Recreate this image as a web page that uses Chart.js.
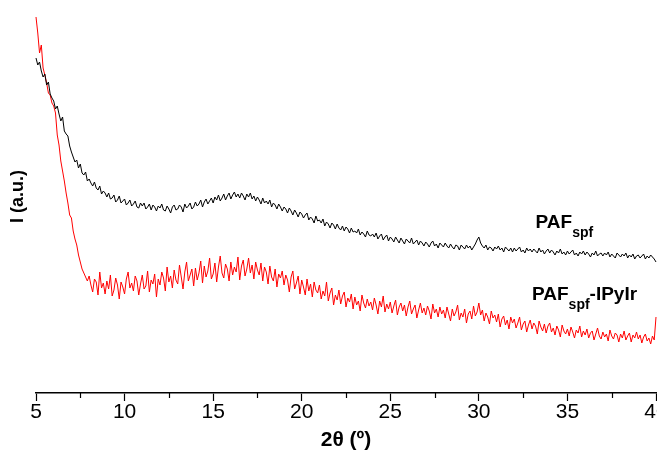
<!DOCTYPE html>
<html>
<head>
<meta charset="utf-8">
<script src="https://cdn.jsdelivr.net/npm/chart.js@4.4.1/dist/chart.umd.min.js"></script>
<style>
  html, body { margin: 0; background: #fff; }
  canvas { display: block; }
</style>
</head>
<body>
<canvas id="chart" width="657" height="467"></canvas>
<script>
// 2theta sampled every 0.1 deg from 5 to 40
const angleStart = 5;
const angleStep = 0.1;

// intensity (a.u.)
const pafSpf = [
  335, 328, 331, 322, 316, 319, 308, 311, 299, 295,
  292, 284, 287, 279, 272, 276, 262, 259, 257, 247,
  241, 236, 231, 233, 225, 229, 220, 218, 221, 212,
  214, 210, 207, 211, 205, 203, 207, 199, 202, 200,
  196, 200, 194, 195, 198, 191, 193, 197, 190, 192,
  194, 188, 190, 193, 187, 189, 192, 186, 185, 190,
  187, 190, 184, 186, 189, 183, 188, 186, 182, 187,
  185, 189, 183, 182, 187, 184, 180, 186, 188, 183,
  184, 188, 186, 181, 189, 185, 187, 190, 184, 186,
  191, 187, 189, 193, 186, 191, 194, 189, 192, 195,
  190, 196, 193, 198, 192, 195, 199, 193, 197, 200,
  194, 198, 201, 196, 199, 195, 200, 197, 193, 199,
  196, 200, 194, 197, 192, 196, 193, 189, 195, 190,
  192, 189, 193, 186, 190, 188, 184, 189, 186, 182,
  186, 184, 180, 185, 182, 178, 183, 180, 176, 181,
  179, 175, 178, 180, 173, 176, 174, 170, 177, 172,
  173, 170, 174, 167, 171, 169, 165, 170, 168, 164,
  169, 165, 163, 167, 162, 166, 164, 160, 165, 161,
  162, 160, 164, 158, 161, 159, 156, 162, 158, 157,
  159, 156, 160, 154, 157, 159, 153, 156, 158, 152,
  156, 154, 151, 156, 153, 150, 155, 152, 149, 154,
  152, 150, 155, 149, 151, 153, 148, 152, 150, 147,
  151, 149, 146, 150, 152, 147, 149, 145, 150, 148,
  146, 150, 147, 145, 149, 146, 144, 148, 147, 143,
  148, 146, 144, 148, 145, 147, 143, 146, 149, 153,
  156, 150, 147, 145, 148, 143, 146, 145, 142, 146,
  144, 147, 143, 145, 141, 146, 144, 142, 145, 141,
  145, 142, 144, 146, 141, 143, 140, 145, 142, 144,
  141, 144, 142, 140, 145, 141, 143, 139, 142, 144,
  140, 143, 141, 138, 142, 140, 144, 139, 141, 138,
  142, 139, 141, 143, 138, 140, 137, 141, 139, 142,
  138, 141, 139, 136, 140, 138, 142, 137, 139, 140,
  137, 140, 138, 141, 136, 139, 137, 135, 140, 138,
  136, 139, 137, 140, 135, 138, 136, 139, 134, 137,
  138, 135, 137, 139, 134, 137, 135, 138, 136, 134,
  131
];

const pafSpfIPyIr = [
  376, 360, 340, 348, 325, 318, 310, 300, 298, 290,
  287, 280, 258, 248, 232, 222, 212, 200, 190, 178,
  175, 162, 154, 148, 138, 131, 124, 120, 116, 112,
  117, 108, 101, 114, 111, 98, 121, 105, 110, 99,
  112, 104, 118, 97, 103, 115, 108, 94, 111, 106,
  99, 114, 121, 105, 110, 102, 117, 112, 98, 109,
  118, 104, 107, 122, 101, 113, 109, 119, 96, 114,
  108, 121, 115, 102, 126, 111, 117, 105, 123, 113,
  109, 128, 116, 104, 121, 131, 112, 118, 124, 107,
  125, 113, 120, 132, 110, 127, 116, 122, 135, 114,
  119, 130, 111, 126, 137, 120, 115, 129, 124, 112,
  131, 118, 126, 121, 136, 113, 127, 133, 117, 124,
  135, 120, 128, 114, 131, 123, 118, 130, 112, 126,
  121, 109, 127, 116, 112, 124, 106, 119, 115, 122,
  108, 118, 113, 101, 116, 122, 104, 110, 117, 99,
  113, 106, 98, 114, 102, 109, 96, 111, 103, 100,
  108, 94, 102, 97, 111, 92, 100, 105, 88, 98,
  93, 103, 89, 97, 101, 86, 95, 91, 99, 84,
  96, 88, 92, 82, 98, 90, 85, 94, 87, 91,
  83, 95, 88, 79, 92, 86, 97, 81, 89, 84,
  91, 80, 87, 93, 78, 86, 90, 82, 88, 77,
  86, 92, 79, 84, 88, 75, 83, 90, 80, 85,
  78, 87, 82, 74, 89, 80, 84, 76, 86, 79,
  83, 75, 86, 79, 72, 84, 77, 81, 88, 73,
  80, 76, 84, 70, 79, 82, 74, 87, 77, 81,
  90, 78, 83, 72, 80, 76, 69, 82, 75, 78,
  71, 79, 66, 74, 77, 68, 73, 64, 76, 70,
  74, 65, 70, 76, 63, 69, 72, 61, 68, 73,
  64, 70, 67, 59, 72, 66, 62, 69, 60, 67,
  70, 61, 65, 58, 67, 63, 56, 68, 62, 59,
  64, 57, 66, 61, 55, 63, 60, 67, 56, 62,
  58, 64, 55, 60, 62, 53, 59, 65, 57, 54,
  61, 56, 59, 52, 63, 57, 54, 60, 58, 51,
  59, 55, 62, 53, 57, 60, 51, 58, 55, 61,
  54, 58, 50, 56, 59, 52, 55, 49, 57, 53,
  76
];

const xTicks = [5, 10, 15, 20, 25, 30, 35, 40];
const xMinorTicks = [7.5, 12.5, 17.5, 22.5, 27.5, 32.5, 37.5];

const seriesLabels = [
  { main: 'PAF', sub: 'spf', tail: '' },
  { main: 'PAF', sub: 'spf', tail: '-IPyIr' },
];
// where each label sits, in data units (angle, intensity of baseline)
const labelAnchors = [{ x: 33.2, y: 165 }, { x: 33.0, y: 93 }];

const angles = pafSpf.map((_, i) => +(angleStart + i * angleStep).toFixed(1));
const toPoints = (vals) => vals.map((v, i) => ({ x: angles[i], y: v }));

const narrow = '"Liberation Sans Narrow", "Arial Narrow", "Liberation Sans", Arial, sans-serif';
const sans = '"Liberation Sans", Arial, Helvetica, sans-serif';

const minorTickPlugin = {
  id: 'minorTicks',
  afterDraw(chart) {
    const { ctx, scales: { x } } = chart;
    ctx.save();
    ctx.strokeStyle = '#000';
    ctx.lineWidth = 1.2;
    xMinorTicks.forEach((v) => {
      const px = Math.round(x.getPixelForValue(v)) + 0.5;
      ctx.beginPath();
      ctx.moveTo(px, x.top);
      ctx.lineTo(px, x.top + 5);
      ctx.stroke();
    });
    ctx.restore();
  },
};

const labelPlugin = {
  id: 'seriesLabels',
  afterDraw(chart) {
    const { ctx, scales: { x, y } } = chart;
    ctx.save();
    ctx.fillStyle = '#000';
    ctx.textAlign = 'left';
    ctx.textBaseline = 'alphabetic';
    seriesLabels.forEach((lab, i) => {
      let px = x.getPixelForValue(labelAnchors[i].x);
      const py = y.getPixelForValue(labelAnchors[i].y);
      ctx.font = 'bold 19px ' + sans;
      ctx.fillText(lab.main, px, py);
      px += ctx.measureText(lab.main).width;
      ctx.font = 'bold 14px ' + sans;
      ctx.fillText(lab.sub, px, py + 9);
      px += ctx.measureText(lab.sub).width;
      if (lab.tail) {
        ctx.font = 'bold 19px ' + sans;
        ctx.fillText(lab.tail, px, py);
      }
    });
    ctx.restore();
  },
};

new Chart(document.getElementById('chart'), {
  type: 'line',
  data: {
    datasets: [
      { label: 'PAFspf', data: toPoints(pafSpf), borderColor: '#000000', borderWidth: 1, pointRadius: 0, tension: 0, clip: false },
      { label: 'PAFspf-IPyIr', data: toPoints(pafSpfIPyIr), borderColor: '#ff0000', borderWidth: 1, pointRadius: 0, tension: 0, clip: false },
    ],
  },
  options: {
    responsive: false,
    animation: false,
    events: [],
    layout: { padding: { top: 0, right: 1, left: 0, bottom: 0 } },
    plugins: { legend: { display: false }, tooltip: { enabled: false } },
    scales: {
      x: {
        type: 'linear',
        min: 5,
        max: 40,
        afterBuildTicks: (s) => { s.ticks = xTicks.map((v) => ({ value: v })); },
        afterFit: (s) => { s.height = 74; s.paddingLeft = 0; s.paddingRight = 0; },
        grid: { display: true, drawOnChartArea: false, drawTicks: true, tickLength: 8, tickColor: '#000', tickWidth: 1.2 },
        border: { display: true, color: '#000', width: 1.6 },
        ticks: { color: '#000', font: { family: narrow, size: 21 }, padding: -1, maxRotation: 0, autoSkip: false },
        title: { display: true, text: '2θ (º)', color: '#000', font: { family: narrow, size: 21, weight: 'bold' }, padding: { top: 0, bottom: 14 } },
      },
      y: {
        min: 0,
        max: 393,
        afterFit: (s) => { s.width = 36; },
        grid: { display: false },
        border: { display: false },
        ticks: { display: false },
        title: { display: true, text: 'I (a.u.)', color: '#000', font: { family: sans, size: 18, weight: 'bold' }, padding: { top: 7, bottom: 0 } },
      },
    },
  },
  plugins: [minorTickPlugin, labelPlugin],
});
</script>
</body>
</html>
